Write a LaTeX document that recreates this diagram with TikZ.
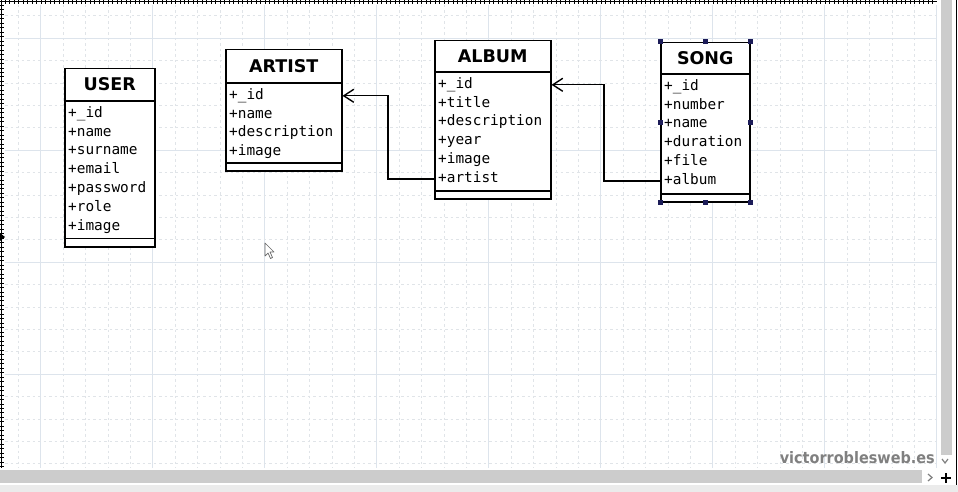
\documentclass[tikz,border=0pt]{standalone}
\usepackage{fontspec}
\usetikzlibrary{arrows.meta,calc}
\newfontfamily\dejavu{DejaVu Sans}
\newfontfamily\dejavumono{DejaVu Sans Mono}
\definecolor{gridminor}{HTML}{E0E4E8}
\definecolor{gridmajor}{HTML}{DDE4EC}
\definecolor{gripblue}{HTML}{1C1C58}
\definecolor{scrollgray}{HTML}{CCCCCC}
\tikzset{
  umlbox/.style={draw, line width=1.5pt, fill=white, anchor=north west, inner sep=0pt},
  umltitle/.style={font=\dejavu\bfseries\fontsize{17.5}{17.5}\selectfont, inner sep=0pt},
  umlattr/.style={font=\dejavumono\fontsize{14.4}{14.4}\selectfont, anchor=west,
    inner sep=0pt, text height=10pt, text depth=3pt},
  umlsep/.style={line width=1.5pt},
  umllink/.style={line width=1.4pt,
    -{Straight Barb[length=10pt,width=13pt,line width=1.4pt]}},
  umlgrip/.style={fill=gripblue, inner sep=0pt, minimum size=5pt},
  minorline/.style={gridminor, line width=0.5pt, dash pattern=on 2.5pt off 3pt},
  majorline/.style={gridmajor, line width=0.8pt}
}
\begin{document}
\begin{tikzpicture}[x=1pt,y=-1pt]
\useasboundingbox (0,0) rectangle (958,492);
% canvas and grid
\fill[white] (0,0) rectangle (958,492);
\begin{scope}
\clip (5,5) rectangle (937,468);
\foreach \k in {0,...,41}{
  \pgfmathtruncatemacro\maj{mod(\k+4,5)==0}
  \ifnum\maj=1 \draw[majorline] ({18.3+22.4*\k},5) -- ({18.3+22.4*\k},468);
  \else \draw[minorline] ({18.3+22.4*\k},5) -- ({18.3+22.4*\k},468); \fi
}
\foreach \k in {0,...,20}{
  \pgfmathtruncatemacro\maj{mod(\k+4,5)==0}
  \ifnum\maj=1 \draw[majorline] (5,{15.6+22.4*\k}) -- (937,{15.6+22.4*\k});
  \else \draw[minorline] (5,{15.6+22.4*\k}) -- (937,{15.6+22.4*\k}); \fi
}
\end{scope}
% rulers
\draw[line width=0.8pt] (0,1) -- (937,1);
\draw[line width=0.8pt] (1,0) -- (1,468);
\foreach \k in {0,...,207} \draw[line width=0.4pt] ({5+4.48*\k},0) -- ++(0,4);
\foreach \k in {0,...,103} \draw[line width=0.4pt] (0,{5+4.48*\k}) -- ++(4,0);
\fill (0,233) -- (5,237) -- (0,241) -- cycle;
% scroll bars
\fill[scrollgray] (941,0) rectangle (952,455);
\draw[line width=1pt] (956,0) -- (956,492);
\fill[scrollgray] (0,470) rectangle (922,483);
\fill[black!8] (0,485) rectangle (958,492);
\draw[gray, line width=1.2pt] (942,459) -- (945,463) -- (948,459);
\draw[gray, line width=1.2pt] (928,474) -- (932,477.5) -- (928,481);
\draw[line width=1.8pt] (941,478) -- (951,478) (946,473) -- (946,483);
\node[anchor=base east, text=black!50, inner sep=0pt] (watermark) at (935,463)
  {\resizebox{155pt}{12pt}{\dejavu\bfseries victorroblesweb.es}};
% mouse pointer
\draw[black!60, fill=white, line width=0.7pt, line join=round]
  (265,243) -- (265,256) -- (268,253) -- (270.5,258.5) -- (272.5,257.5) -- (270,252) -- (274,252) -- cycle;

% USER
\node[umlbox, minimum width=90pt, minimum height=178pt] (user) at (64,68) {};
\node[umltitle] (user-title) at ($(user.north)+(0,16.5)$) {USER};
\draw[umlsep] ($(user.north west)+(0,33)$) -- ($(user.north east)+(0,33)$);
\draw[umlsep] ($(user.south west)+(0,-9)$) -- ($(user.south east)+(0,-9)$);
\foreach \t [count=\i] in {\_id,name,surname,email,password,role,image}
  \node[umlattr] (user-\i) at ($(user.north west)+(4,{27+18.8*\i})$) {+\t};

% ARTIST
\node[umlbox, minimum width=116pt, minimum height=121pt] (artist) at (225,49) {};
\node[umltitle] (artist-title) at ($(artist.north)+(0,17)$) {ARTIST};
\draw[umlsep] ($(artist.north west)+(0,34)$) -- ($(artist.north east)+(0,34)$);
\draw[umlsep] ($(artist.south west)+(0,-8.5)$) -- ($(artist.south east)+(0,-8.5)$);
\foreach \t [count=\i] in {\_id,name,description,image}
  \node[umlattr] (artist-\i) at ($(artist.north west)+(4,{28+18.8*\i})$) {+\t};

% ALBUM
\node[umlbox, minimum width=116pt, minimum height=158pt] (album) at (434,40) {};
\node[umltitle] (album-title) at ($(album.north)+(0,16)$) {ALBUM};
\draw[umlsep] ($(album.north west)+(0,32)$) -- ($(album.north east)+(0,32)$);
\draw[umlsep] ($(album.south west)+(0,-8.5)$) -- ($(album.south east)+(0,-8.5)$);
\foreach \t [count=\i] in {\_id,title,description,year,image,artist}
  \node[umlattr] (album-\i) at ($(album.north west)+(4,{26+18.8*\i})$) {+\t};

% SONG
\node[umlbox, minimum width=89pt, minimum height=159pt] (song) at (660,42) {};
\node[umltitle] (song-title) at ($(song.north)+(0,16)$) {SONG};
\draw[umlsep] ($(song.north west)+(0,32)$) -- ($(song.north east)+(0,32)$);
\draw[umlsep] ($(song.south west)+(0,-8.5)$) -- ($(song.south east)+(0,-8.5)$);
\foreach \t [count=\i] in {\_id,number,name,duration,file,album}
  \node[umlattr] (song-\i) at ($(song.north west)+(4,{26+18.8*\i})$) {+\t};
\foreach \p [count=\i] in {north west,north,north east,west,east,south west,south,south east}
  \node[umlgrip] (song-grip-\i) at (song.\p) {};

% associations
\draw[umllink] (album.west |- album-6) -- ++(-46,0) |- (artist.east |- artist-1);
\draw[umllink] (song.west |- song-6) -- ++(-56,0) |- (album.east |- album-1);
\end{tikzpicture}
\end{document}
